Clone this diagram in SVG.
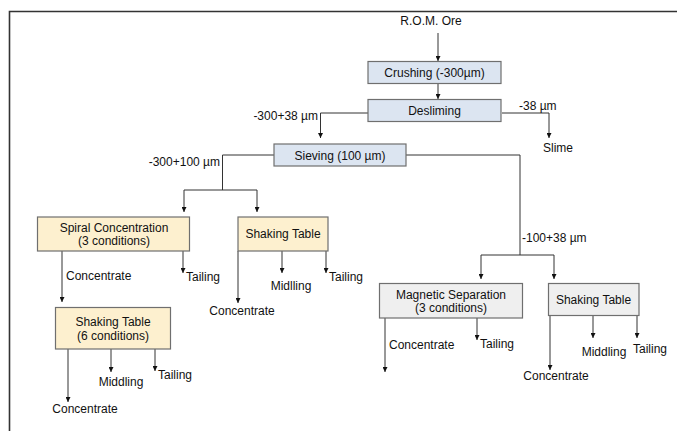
<svg xmlns="http://www.w3.org/2000/svg" width="677" height="431" viewBox="0 0 677 431">
<style>
text{font-family:"Liberation Sans",Arial,sans-serif;font-size:12px;fill:#111}
.b{fill:#dce5f1;stroke:#6f6f6f;stroke-width:1.2}
.y{fill:#fdf0cf;stroke:#6f6f6f;stroke-width:1.2}
.g{fill:#efefef;stroke:#6f6f6f;stroke-width:1.2}
.c{fill:none;stroke:#333;stroke-width:1}
.m{text-anchor:middle}
.e{text-anchor:end}
</style>
<defs>
<marker id="a" viewBox="0 0 6 6" refX="3" refY="6" markerWidth="6" markerHeight="6" orient="auto-start-reverse" markerUnits="userSpaceOnUse">
<path d="M0,0 L6,0 L3,6 Z" fill="#111" transform="rotate(-90 3 3)"/>
</marker>
<marker id="d" viewBox="0 0 5 5" refX="2.5" refY="5" markerWidth="5" markerHeight="5" orient="0" markerUnits="userSpaceOnUse">
<path d="M0,0 L5,0 L2.5,5 Z" fill="#111"/>
</marker>
</defs>
<g id="frame"><path d="M9.5,431 V11.5 H677" fill="none" stroke="#333" stroke-width="1.6"/></g>
<g id="connectors" class="c">
<path d="M438,33 V61" marker-end="url(#d)"/>
<path d="M438,83 V99" marker-end="url(#d)"/>
<path d="M502,113 H549 V138" marker-end="url(#d)"/>
<path d="M368,113 H320.5 V138" marker-end="url(#d)"/>
<path d="M406,155 H520 V255"/>
<path d="M481,279 V255 H554 V279" marker-start="url(#d)" marker-end="url(#d)"/>
<path d="M274,155 H222.5 V190"/>
<path d="M184,212 V190 H257 V212" marker-start="url(#d)" marker-end="url(#d)"/>
<path d="M62,251 V302" marker-end="url(#d)"/>
<path d="M183,251 V273" marker-end="url(#d)"/>
<path d="M68,349 V402" marker-end="url(#d)"/>
<path d="M111,349 V372" marker-end="url(#d)"/>
<path d="M155,349 V371" marker-end="url(#d)"/>
<path d="M238,251 V303" marker-end="url(#d)"/>
<path d="M282,251 V273" marker-end="url(#d)"/>
<path d="M326,251 V273" marker-end="url(#d)"/>
<path d="M385,318 V372" marker-end="url(#d)"/>
<path d="M477,318 V340" marker-end="url(#d)"/>
<path d="M550,315 V370" marker-end="url(#d)"/>
<path d="M593,315 V338" marker-end="url(#d)"/>
<path d="M637,315 V338" marker-end="url(#d)"/>
</g>
<g id="rom"><text x="431" y="25" class="m">R.O.M. Ore</text></g>
<g id="crushing"><rect x="368" y="61.5" width="133" height="22" class="b"/><text x="434.5" y="77" class="m">Crushing (-300µm)</text></g>
<g id="desliming"><rect x="368" y="99.5" width="133" height="22" class="b"/><text x="434.5" y="115" class="m">Desliming</text></g>
<g id="slime"><text x="519" y="110">-38 µm</text><text x="558" y="152" class="m">Slime</text></g>
<g id="l1"><text x="318" y="120" class="e">-300+38 µm</text></g>
<g id="sieving"><rect x="274" y="144" width="132" height="22" class="b"/><text x="340" y="159.5" class="m">Sieving (100 µm)</text></g>
<g id="l2"><text x="220" y="166" class="e">-300+100 µm</text></g>
<g id="l3"><text x="522" y="242">-100+38 µm</text></g>
<g id="spiral"><rect x="37.5" y="217" width="152" height="34" class="y"/><text x="114" y="232" class="m">Spiral Concentration</text><text x="114" y="245" class="m">(3 conditions)</text></g>
<g id="spiral-out"><text x="66" y="280">Concentrate</text><text x="186" y="281">Tailing</text></g>
<g id="shaking1"><rect x="238" y="217" width="90" height="34" class="y"/><text x="283" y="238" class="m">Shaking Table</text></g>
<g id="shaking1-out"><text x="242" y="315" class="m">Concentrate</text><text x="291" y="290" class="m">Midlling</text><text x="329" y="281">Tailing</text></g>
<g id="shaking6"><rect x="55.5" y="307.5" width="115" height="41.5" class="y"/><text x="113" y="326" class="m">Shaking Table</text><text x="113" y="340" class="m">(6 conditions)</text></g>
<g id="shaking6-out"><text x="85" y="413" class="m">Concentrate</text><text x="121" y="386" class="m">Middling</text><text x="158" y="379">Tailing</text></g>
<g id="magnetic"><rect x="379.5" y="283.5" width="143" height="34.5" class="g"/><text x="451" y="299" class="m">Magnetic Separation</text><text x="451" y="312" class="m">(3 conditions)</text></g>
<g id="magnetic-out"><text x="389" y="349">Concentrate</text><text x="480" y="348">Tailing</text></g>
<g id="shaking2"><rect x="548.5" y="283.5" width="90.5" height="32" class="g"/><text x="593.5" y="304" class="m">Shaking Table</text></g>
<g id="shaking2-out"><text x="556" y="380" class="m">Concentrate</text><text x="604" y="356" class="m">Middling</text><text x="650" y="353" class="m">Tailing</text></g>
</svg>
